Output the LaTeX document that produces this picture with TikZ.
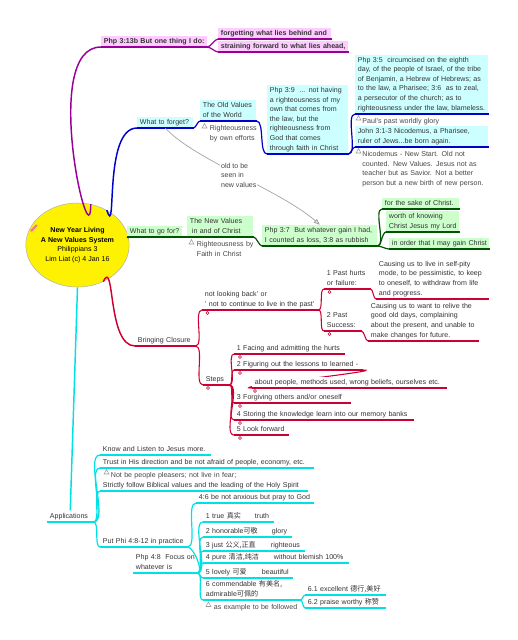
\documentclass[tikz,border=0pt]{standalone}
\usepackage{fontspec}
\setmainfont{Liberation Sans}
\newfontfamily\cjk{Noto Sans CJK SC}
\usepackage{tikz}
\usetikzlibrary{shapes.geometric,arrows.meta}

\definecolor{mmpurple}{RGB}{153,0,153}
\definecolor{mmpink}{RGB}{255,204,255}
\definecolor{mmblue}{RGB}{0,0,204}
\definecolor{mmcyanfill}{RGB}{204,255,255}
\definecolor{mmgreen}{RGB}{0,85,0}
\definecolor{mmgreenfill}{RGB}{204,255,204}
\definecolor{mmred}{RGB}{204,0,51}
\definecolor{mmcyan}{RGB}{0,225,230}
\definecolor{txtgray}{RGB}{51,51,51}
\definecolor{notegray}{RGB}{70,70,70}

\newcommand{\mmfont}{\fontsize{5.3}{7.2}\selectfont}

\tikzset{
  topic/.style={anchor=south west, inner xsep=2pt, inner ysep=0.6pt, align=left,
    text width={#1*0.75pt-4pt}, font=\mmfont, text=txtgray,
    execute at begin node={\rightskip=-25pt plus 1fil\strut}, execute at end node=\strut},
  uline/.style={append after command={(\tikzlastnode.south west) edge[draw=#1, line width=0.8pt] (\tikzlastnode.south east)}},
  ptopic/.style={topic=#1, fill=mmpink, uline=mmpurple, font=\mmfont\bfseries},
  btopic/.style={topic=#1, fill=mmcyanfill, uline=mmblue},
  gtopic/.style={topic=#1, fill=mmgreenfill, uline=mmgreen},
  rtopic/.style={topic=#1, uline=mmred},
  ctopic/.style={topic=#1, uline=mmcyan},
  note/.style={anchor=north west, inner sep=0.5pt, align=left, text width={#1*0.75pt}, font=\mmfont, text=notegray,
    execute at begin node={\rightskip=-25pt plus 1fil\strut}},
  notetri/.style={draw=gray!80, line width=0.4pt},
  dotmark/.style={draw=mmred, line width=0.4pt},
  conn/.style={out=0, in=180, looseness=0.6},
  pline/.style={draw=mmpurple, line width=0.9pt},
  bline/.style={draw=mmblue, line width=0.9pt},
  gline/.style={draw=mmgreen, line width=0.9pt},
  rline/.style={draw=mmred, line width=0.8pt},
  cline/.style={draw=mmcyan, line width=0.9pt},
  refarrow/.style={draw=gray!75, line width=0.5pt, -{Triangle[length=4.5pt, width=3.5pt, fill=gray!30]}},
  reflabel/.style={fill=white, inner sep=0.5pt, align=left, font=\mmfont, text=notegray}
}

\begin{document}
\begin{tikzpicture}[x=0.75pt,y=0.75pt,yscale=-1,xscale=1]
\useasboundingbox (0,0) rectangle (518,640);

%Shape: Ellipse [id:root]
\node[ellipse, draw=gray!60, fill=yellow, minimum width=73.5pt, minimum height=63pt, inner sep=0pt,
  align=center, font=\mmfont, text=black] (root) at (77.5,245)
  {\textbf{New Year Living}\\\textbf{A New Values System}\\Philippians 3\\Lim Liat (c) 4 Jan 16};
%Shape: pencil icon
\draw[color={rgb, 255:red, 240; green, 128; blue, 128 }, line width=1.6pt] (31,231) -- (37,225);

% Text Node
\node[ptopic=106] (p1) at (101,47) {Php 3:13b But one thing I do:};
\node[ptopic=113] (p2) at (218,39) {forgetting what lies behind and};
\node[ptopic=130] (p3) at (218,52) {straining forward to what lies ahead,};

% Text Node
\node[btopic=56] (b1) at (137,128) {What to forget?};
\node[btopic=56] (b2) at (200,121) {The Old Values\\of the World};
\node[btopic=81] (b3) at (267,154) {Php 3:9 \ ... not having\\a righteousness of my\\own that comes from\\the law, but the\\righteousness from\\God that comes\\through faith in Christ};
\node[btopic=133] (b4) at (355,114) {Php 3:5 \ circumcised on the eighth\\day, of the people of Israel, of the tribe\\of Benjamin, a Hebrew of Hebrews; as\\to the law, a Pharisee; 3:6 \ as to zeal,\\a persecutor of the church; as to\\righteousness under the law, blameless.};
\node[btopic=133] (b5) at (355,147) {John 3:1-3 Nicodemus, a Pharisee,\\ruler of Jews...be born again.};
\path (b2.south west) ++(9,2) node[note=50] (b2n) {Righteousness\\by own efforts};
\path (b4.south west) ++(6.5,2) node[note=90] (b4n) {Paul's past worldly glory};
\path (b5.south west) ++(6.5,2) node[note=130] (b5n) {Nicodemus - New Start. Old not\\counted. New Values. Jesus not as\\teacher but as Savior. Not a better\\person but a new birth of new person.};

% Text Node
\node[gtopic=55] (g1) at (127,237) {What to go for?};
\node[gtopic=66] (g2) at (187,237) {The New Values\\\hspace*{1.5pt}in and of Christ};
\node[gtopic=115] (g3) at (262,246) {Php 3:7 \ But whatever gain I had,\\I counted as loss, 3:8 as rubbish};
\node[gtopic=77] (g4) at (382,209) {for the sake of Christ.};
\node[gtopic=73] (g5) at (386,232) {worth of knowing\\Christ Jesus my Lord};
\node[gtopic=100] (g6) at (389,249) {in order that I may gain Christ};
\path (g2.south west) ++(9,2) node[note=60] (g2n) {Righteousness by\\Faith in Christ};

% Text Node
\node[rtopic=60] (r1) at (135,346) {Bringing Closure};
\node[rtopic=116] (r2) at (202,310) {not looking back' or\\' not to continue to live in the past'};
\node[rtopic=26] (r3) at (203,385) {Steps};
\node[rtopic=46] (r4) at (324,289) {1 Past hurts\\or failure:};
\node[rtopic=37] (r5) at (324,331) {2 Past\\Success:};
\node[rtopic=112] (r6) at (376,299) {Causing us to live in self-pity\\mode, to be pessimistic, to keep\\to oneself, to withdraw from life\\and progress.};
\node[rtopic=110] (r7) at (368,341) {Causing us to want to relive the\\good old days, complaining\\about the present, and unable to\\make changes for future.};
\node[rtopic=110] (s1) at (234,354) {1 Facing and admitting the hurts};
\node[rtopic=128] (s2) at (234,370) {2 Figuring out the lessons to learned -};
\node[rtopic=116] (s3) at (234,403) {3 Forgiving others and/or oneself};
\node[rtopic=179] (s4) at (234,420) {4 Storing the knowledge learn into our memory banks};
\node[rtopic=54] (s5) at (234,435) {5 Look forward};
\coordinate (s2cfoot) at (252,388);
\draw[rline] (s2.south east) .. controls +(30,0) and +(-30,0) .. (s2cfoot);
\node[rtopic=194, fill=white] (s2c) at (s2cfoot) {about people, methods used, wrong beliefs, ourselves etc.};

% Text Node
\node[ctopic=46] (app) at (47,522) {Applications};
\node[ctopic=110] (a1) at (100,455) {Know and Listen to Jesus more.};
\node[ctopic=213] (a2) at (100,468) {Trust in His direction and be not afraid of people, economy, etc.};
\node[ctopic=207] (a3) at (100,491) {Strictly follow Biblical values and the leading of the Holy Spirit};
\node[ctopic=87] (a4) at (100,547) {Put Phi 4:8-12 in practice};
\node[ctopic=117] (a5) at (196,503) {4:6 be not anxious but pray to God};
\node[ctopic=64] (a6) at (133,573) {Php 4:8 \ Focus on\\whatever is};
\path (a2.south west) ++(10,1.5) node[note=140] (a2n) {Not be people pleasers; not live in fear;};
\node[ctopic=49] (i1) at (203,522) {1 true {\cjk 真实}};
\node[ctopic=21] (i1c) at (252,522) {truth};
\node[ctopic=66] (i2) at (203,537) {2 honorable{\cjk 可敬}};
\node[ctopic=22] (i2c) at (269,537) {glory};
\node[ctopic=65] (i3) at (203,551) {3 just {\cjk 公义,正直}};
\node[ctopic=36] (i3c) at (268,551) {righteous};
\node[ctopic=68] (i4) at (203,563) {4 pure {\cjk 清洁,纯洁}};
\node[ctopic=77] (i4c) at (271,563) {without blemish 100\%};
\node[ctopic=56] (i5) at (203,578) {5 lovely {\cjk 可爱}};
\node[ctopic=33] (i5c) at (259,578) {beautiful};
\node[ctopic=97] (i6) at (203,600) {6 commendable {\cjk 有美名,}\\admirable{\cjk 可佩的}};
\node[ctopic=80] (i61) at (305,595) {6.1 excellent {\cjk 德行,美好}};
\node[ctopic=80] (i62) at (305,608) {6.2 praise worthy {\cjk 称赞}};
\path (i6.south west) ++(10,2) node[note=90] (i6n) {as example to be followed};

%Connectors: purple
\draw[pline, line width=1.1pt] (root.72) to[out=90,in=180] (p1.south west);
\draw[pline] (p1.south east) to[conn] (p2.south west);
\draw[pline] (p1.south east) to[conn] (p3.south west);
%Connectors: blue
\draw[bline, line width=1.1pt] (root.50) to[out=72,in=180] (b1.south west);
\draw[bline] (b1.south east) to[conn] (b2.south west);
\draw[bline] (b2.south east) to[conn] (b3.south west);
\draw[bline] (b3.south east) to[conn] (b4.south west);
\draw[bline] (b3.south east) to[conn] (b5.south west);
\draw[refarrow] (b1.south) .. controls (195,160) and (280,190) .. node[reflabel] (oldnew) {old to be\\seen in\\new values} (g3.north);
%Connectors: green
\draw[gline, line width=1.1pt] (root.8) to[conn] (g1.south west);
\draw[gline] (g1.south east) to[conn] (g2.south west);
\draw[gline] (g2.south east) to[conn] (g3.south west);
\draw[gline] (g3.south east) to[conn] (g4.south west);
\draw[gline] (g3.south east) to[conn] (g5.south west);
\draw[gline] (g3.south east) to[conn] (g6.south west);
%Connectors: red
\draw[rline, line width=1.1pt] (root.-55) to[out=-65,in=180] (r1.south west);
\draw[rline] (r1.south east) to[conn] (r2.south west);
\draw[rline] (r1.south east) to[conn] (r3.south west);
\draw[rline] (r2.south east) to[conn] (r4.south west);
\draw[rline] (r2.south east) to[conn] (r5.south west);
\draw[rline] (r4.south east) to[conn] (r6.south west);
\draw[rline] (r5.south east) to[conn] (r7.south west);
\draw[rline] (r3.south east) to[conn] (s1.south west);
\draw[rline] (r3.south east) to[conn] (s2.south west);
\draw[rline] (r3.south east) to[conn] (s3.south west);
\draw[rline] (r3.south east) to[conn] (s4.south west);
\draw[rline] (r3.south east) to[conn] (s5.south west);
%Connectors: cyan
\draw[cline, line width=1.1pt] (root.south) -- (app.north);
\draw[cline] (app.south east) to[conn] (a1.south west);
\draw[cline] (app.south east) to[conn] (a2.south west);
\draw[cline] (app.south east) to[conn] (a3.south west);
\draw[cline] (app.south east) to[conn] (a4.south west);
\draw[cline] (a4.south east) to[conn] (a5.south west);
\draw[cline] (a4.south east) to[out=0,in=0,looseness=0.6] (a6.south east);
\draw[cline] (a6.south east) to[conn] (i1.south west);
\draw[cline] (a6.south east) to[conn] (i2.south west);
\draw[cline] (a6.south east) to[conn] (i3.south west);
\draw[cline] (a6.south east) to[conn] (i4.south west);
\draw[cline] (a6.south east) to[conn] (i5.south west);
\draw[cline] (a6.south east) to[conn] (i6.south west);
\draw[cline] (i1.south east) -- (i1c.south west);
\draw[cline] (i2.south east) -- (i2c.south west);
\draw[cline] (i3.south east) -- (i3c.south west);
\draw[cline] (i4.south east) -- (i4c.south west);
\draw[cline] (i5.south east) -- (i5c.south west);
\draw[cline] (i6.south east) to[conn] (i61.south west);
\draw[cline] (i6.south east) to[conn] (i62.south west);

%Shape: note markers
\draw[notetri] (b2.south west) ++(2,7) -- ++(2.5,-4.5) -- ++(2.5,4.5) -- cycle;
\draw[notetri] (b4.south west) ++(1,6) -- ++(2.5,-4.5) -- ++(2.5,4.5) -- cycle;
\draw[notetri] (b5.south west) ++(1,6) -- ++(2.5,-4.5) -- ++(2.5,4.5) -- cycle;
\draw[notetri] (g2.south west) ++(2,7) -- ++(2.5,-4.5) -- ++(2.5,4.5) -- cycle;
\draw[notetri] (a2.south west) ++(4,6) -- ++(2.5,-4.5) -- ++(2.5,4.5) -- cycle;
\draw[notetri] (i6.south west) ++(3,6.5) -- ++(2.5,-4.5) -- ++(2.5,4.5) -- cycle;
%Shape: collapse markers
\draw[dotmark] (r2.south west) ++(5.5,3) circle (1.4);
\draw[dotmark] (r3.south west) ++(5,3) circle (1.4);
\draw[dotmark] (r4.south west) ++(5.5,3) circle (1.4);
\draw[dotmark] (r5.south west) ++(5.5,3) circle (1.4);
\draw[dotmark] (s1.south west) ++(6,3) circle (1.4);
\draw[dotmark] (s2.south west) ++(6,3) circle (1.4);
\draw[dotmark] (s2c.south west) ++(3,3) circle (1.4);
\draw[dotmark] (s3.south west) ++(6,3) circle (1.4);
\draw[dotmark] (s4.south west) ++(6,3) circle (1.4);
\draw[dotmark] (s5.south west) ++(6,3) circle (1.4);

\end{tikzpicture}
\end{document}
